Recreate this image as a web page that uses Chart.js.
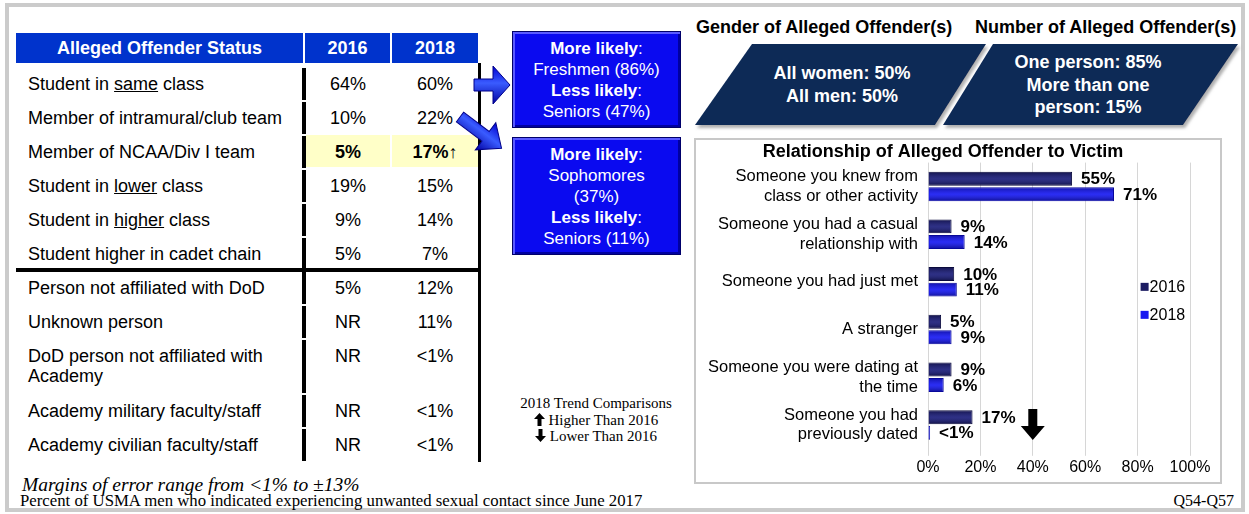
<!DOCTYPE html>
<html lang="en">
<head>
<meta charset="UTF-8">
<title>Alleged Offender Characteristics</title>
<script src="https://cdn.jsdelivr.net/npm/chart.js"></script>
<style>
  body { margin:0; width:1249px; height:514px; background:#fff; position:relative; overflow:hidden;
         font-family:'Liberation Sans', Arial, sans-serif; color:#000; }
  .abs { position:absolute; }
  .frame { left:5px; top:3px; width:1232px; height:501px; border:4px solid #cbcbcb; }
  .hd { top:33px; height:30px; line-height:31px; background:#0033cc; color:#fff; font-weight:bold;
        font-size:18px; text-align:center; }
  .row { position:absolute; left:16px; width:462px; font-size:18px; }
  .row .lab { position:absolute; left:12px; top:7px; width:272px; line-height:20px; white-space:pre-line; }
  .row .v16, .row .v18 { position:absolute; top:0; height:32px; padding-top:7px; line-height:20px;
                         text-align:center; box-sizing:border-box; }
  .row .v16 { left:290px; width:84px; }
  .row .v18 { left:376px; width:86px; }
  .row .v16::before { content:''; position:absolute; left:-4px; top:1px; width:4px;
                      height:var(--h); background:#000; }
  .row.hl .v16, .row.hl .v18 { background:#ffffc8; font-weight:bold; }
  .up { font-weight:normal; }
  .bbox { left:512px; width:167px; background:#0a0af0; border:1px solid #00006a; color:#fff;
          font-size:17px; line-height:21px; text-align:center; display:flex; align-items:center;
          justify-content:center;
          box-shadow: inset 2px 2px 0 #5a5aff, inset -2px -2px 0 #0000a0; }
  .ttl { top:16px; font-size:18px; font-weight:bold; line-height:22px; }
  .ptxt { color:#fff; font-weight:bold; font-size:18px; line-height:22.5px; text-align:center; }
  .panel { left:694px; top:138px; width:524px; height:342px; border:2px solid #c8c8c8; }
  .serif { font-family:'Liberation Serif', 'Times New Roman', serif; }
</style>
</head>
<body>
<div class="abs frame"></div>

<!-- table header -->
<div class="abs hd" style="left:16px;width:287px;">Alleged Offender Status</div>
<div class="abs hd" style="left:305px;width:85px;">2016</div>
<div class="abs hd" style="left:392px;width:86px;">2018</div>
<div id="statusRows"></div>
<div class="abs" style="left:478px;top:63px;width:3px;height:399px;background:#000;"></div>
<div class="abs" style="left:16px;top:268px;width:465px;height:4px;background:#000;"></div>

<!-- shapes: arrows and parallelograms -->
<svg class="abs" style="left:0;top:0;" width="1249" height="514">
  <defs>
    <linearGradient id="arrowFill" x1="0" y1="0" x2="0" y2="1">
      <stop offset="0" stop-color="#0000d0"/>
      <stop offset="0.45" stop-color="#3a5cff"/>
      <stop offset="1" stop-color="#0000a0"/>
    </linearGradient>
    <filter id="shade" x="-5%" y="-5%" width="115%" height="120%">
      <feDropShadow dx="2" dy="3" stdDeviation="1.5" flood-color="#7a7a7a" flood-opacity="0.6"/>
    </filter>
  </defs>
  <polygon points="474,79 493,79 493,66 510,85 493,104 493,91 474,91"
           fill="url(#arrowFill)" stroke="#00008a" stroke-width="1"/>
  <g transform="translate(460,117) rotate(37)">
    <polygon points="0,-6 32,-6 32,-17 52,0 32,17 32,6 0,6"
             fill="url(#arrowFill)" stroke="#00008a" stroke-width="1"/>
  </g>
  <polygon points="752,44 986,44 935,125 695,125" fill="#0b2956" filter="url(#shade)"/>
  <polygon points="993,44 1238,44 1183,125 943,125" fill="#0b2956" filter="url(#shade)"/>
</svg>

<!-- blue callout boxes -->
<div class="abs bbox" style="top:31px;height:95px;">
  <div><b>More likely</b>:<br>Freshmen (86%)<br><b>Less likely</b>:<br>Seniors (47%)</div>
</div>
<div class="abs bbox" style="top:137px;height:116px;">
  <div><b>More likely</b>:<br>Sophomores<br>(37%)<br><b>Less likely</b>:<br>Seniors (11%)</div>
</div>

<!-- gender / number -->
<div class="abs ttl" style="left:696px;">Gender of Alleged Offender(s)</div>
<div class="abs ttl" style="left:975px;">Number of Alleged Offender(s)</div>
<div class="abs ptxt" style="left:742px;width:200px;top:62px;">All women: 50%<br>All men: 50%</div>
<div class="abs ptxt" style="left:988px;width:200px;top:51px;">One person: 85%<br>More than one<br>person: 15%</div>

<!-- relationship chart -->
<div class="abs panel">
  <canvas id="relChart"></canvas>
</div>

<!-- trend key -->
<div class="abs serif" style="left:500px;width:192px;top:395px;font-size:15px;line-height:16.5px;text-align:center;">
  2018 Trend Comparisons<br>
  <svg width="11" height="13" viewBox="0 0 11 13" style="vertical-align:-1px"><polygon points="5.5,0 11,6 7.5,6 7.5,13 3.5,13 3.5,6 0,6" fill="#000"/></svg> Higher Than 2016<br>
  <svg width="11" height="13" viewBox="0 0 11 13" style="vertical-align:-1px"><polygon points="3.5,0 7.5,0 7.5,7 11,7 5.5,13 0,7 3.5,7" fill="#000"/></svg> Lower Than 2016
</div>

<div class="abs serif" style="left:22px;top:473px;font-size:19.5px;font-style:italic;line-height:23px;">Margins of error range from &lt;1% to ±13%</div>
<div class="abs serif" style="left:20px;top:492px;font-size:16.75px;line-height:18px;">Percent of USMA men who indicated experiencing unwanted sexual contact since June 2017</div>
<div class="abs serif" style="left:1172px;width:62px;top:492px;font-size:16px;line-height:18px;text-align:right;">Q54-Q57</div>

<script>
// --- Alleged offender status table ---
const statusLabels = [
  'Student in <u>same</u> class',
  'Member of intramural/club team',
  'Member of NCAA/Div I team',
  'Student in <u>lower</u> class',
  'Student in <u>higher</u> class',
  'Student higher in cadet chain',
  'Person not affiliated with DoD',
  'Unknown person',
  'DoD person not affiliated with\nAcademy',
  'Academy military faculty/staff',
  'Academy civilian faculty/staff'
];
const status2016 = ['64%', '10%', '5%', '19%', '9%', '5%', '5%', 'NR', 'NR', 'NR', 'NR'];
const status2018 = ['60%', '22%', '17%', '15%', '14%', '7%', '12%', '11%', '<1%', '<1%', '<1%'];
const status2018Up = [2];     // significantly higher than 2016
const highlightRow = 2;

// --- Relationship of alleged offender to victim ---
const relCategories = [
  ['Someone you knew from', 'class or other activity'],
  ['Someone you had a casual', 'relationship with'],
  'Someone you had just met',
  'A stranger',
  ['Someone you were dating at', 'the time'],
  ['Someone you had', 'previously dated']
];
const seriesYears = ['2016', '2018'];
const rel2016 = [55, 9, 10, 5, 9, 17];
const rel2018 = [71, 14, 11, 9, 6, 0.8];   // last one reported as <1%
const trendDownRows = [5];                // 2018 lower than 2016

function pctLabel(v) { return v < 1 ? '<1%' : v + '%'; }

// build table rows
const rowHeights = [34, 34, 34, 34, 34, 34, 34, 34, 55, 34, 34];
const rowsBox = document.getElementById('statusRows');
let rowTop = 67;
statusLabels.forEach((lab, i) => {
  const row = document.createElement('div');
  row.className = 'row' + (i === highlightRow ? ' hl' : '');
  row.style.top = rowTop + 'px';
  row.style.height = rowHeights[i] + 'px';
  row.style.setProperty('--h', (rowHeights[i] - 2) + 'px');
  const v18 = status2018[i].replace('<', '&lt;') +
              (status2018Up.includes(i) ? '<span class="up">\u2191</span>' : '');
  row.innerHTML = '<div class="lab">' + lab + '</div>' +
                  '<div class="v16">' + status2016[i] + '</div>' +
                  '<div class="v18">' + v18 + '</div>';
  rowsBox.appendChild(row);
  rowTop += rowHeights[i];
});

// --- chart ---
const FONT = "'Liberation Sans', Arial, sans-serif";
Chart.defaults.font.family = FONT;
Chart.defaults.color = '#000';

// bevelled look of the bars (dark edges, lighter middle)
const barBevel = {
  id: 'barBevel',
  afterDatasetsDraw(chart) {
    const ctx = chart.ctx;
    ctx.save();
    chart.data.datasets.forEach((ds, i) => {
      chart.getDatasetMeta(i).data.forEach(bar => {
        const w = bar.x - bar.base;
        if (w < 4) return;
        const top = bar.y - bar.height / 2;
        const g = ctx.createLinearGradient(0, top, 0, top + bar.height);
        g.addColorStop(0, 'rgba(0,0,30,0.35)');
        g.addColorStop(0.5, 'rgba(110,120,255,0.22)');
        g.addColorStop(1, 'rgba(0,0,30,0.45)');
        ctx.fillStyle = g;
        ctx.fillRect(bar.base + 1, top + 1, w - 2, bar.height - 2);
      });
    });
    ctx.restore();
  }
};

const valueLabels = {
  id: 'valueLabels',
  afterDatasetsDraw(chart) {
    const ctx = chart.ctx;
    ctx.save();
    ctx.font = 'bold 17px ' + FONT;
    ctx.fillStyle = '#000';
    ctx.textBaseline = 'middle';
    chart.data.datasets.forEach((ds, i) => {
      chart.getDatasetMeta(i).data.forEach((bar, j) => {
        ctx.fillText(pctLabel(ds.data[j]), bar.x + 9, bar.y + 1);
      });
    });
    ctx.restore();
  }
};

const trendArrow = {
  id: 'trendArrow',
  afterDatasetsDraw(chart) {
    const { ctx, scales: { x, y } } = chart;
    ctx.save();
    ctx.fillStyle = '#000';
    trendDownRows.forEach(idx => {
      const cx = x.getPixelForValue(40), cy = y.getPixelForValue(idx);
      ctx.beginPath();
      ctx.moveTo(cx - 4.5, cy - 16);
      ctx.lineTo(cx + 4.5, cy - 16);
      ctx.lineTo(cx + 4.5, cy + 1);
      ctx.lineTo(cx + 12, cy + 1);
      ctx.lineTo(cx, cy + 15);
      ctx.lineTo(cx - 12, cy + 1);
      ctx.lineTo(cx - 4.5, cy + 1);
      ctx.closePath();
      ctx.fill();
    });
    ctx.restore();
  }
};

// small legend sitting inside the plot, on the right
const cornerLegend = {
  id: 'cornerLegend',
  afterDraw(chart) {
    const { ctx, scales: { x, y } } = chart;
    const left = x.getPixelForValue(80) + 3;
    const top = y.getPixelForValue(2) + 5;
    ctx.save();
    ctx.textBaseline = 'middle';
    ctx.font = '16px ' + FONT;
    chart.data.datasets.forEach((ds, i) => {
      const cy = top + i * 28;
      ctx.fillStyle = ds.backgroundColor;
      ctx.fillRect(left, cy - 4, 8, 8);
      ctx.fillStyle = '#000';
      ctx.fillText(ds.label, left + 9, cy + 1);
    });
    ctx.restore();
  }
};

new Chart(document.getElementById('relChart'), {
  type: 'bar',
  data: {
    labels: relCategories,
    datasets: [
      { label: seriesYears[0], data: rel2016, backgroundColor: '#1c1c62', borderColor: '#0a0a3c',
        borderWidth: 1, categoryPercentage: 0.65, barPercentage: 0.9 },
      { label: seriesYears[1], data: rel2018, backgroundColor: '#1818f0', borderColor: '#08089a',
        borderWidth: 1, categoryPercentage: 0.65, barPercentage: 0.9 }
    ]
  },
  options: {
    indexAxis: 'y',
    responsive: true,
    maintainAspectRatio: false,
    animation: false,
    layout: { padding: { left: 0, right: 30, top: 0, bottom: 0 } },
    plugins: {
      legend: { display: false },
      tooltip: { enabled: false },
      title: {
        display: true,
        text: 'Relationship of Alleged Offender to Victim',
        color: '#000',
        font: { size: 18, weight: 'bold' },
        padding: { top: 1, bottom: 0 }
      }
    },
    scales: {
      x: {
        min: 0, max: 100,
        ticks: { stepSize: 20, callback: v => v + '%', font: { size: 16 }, padding: 2 },
        grid: { color: '#d6d6d6', drawTicks: true, tickLength: 7 },
        border: { display: false },
        afterFit: s => { s.height = 33.2; }
      },
      y: {
        grid: { display: false, drawTicks: false },
        border: { display: false },
        ticks: { font: { size: 16.5 }, padding: 10 },
        afterFit: s => { s.width = 232; s.paddingTop = 0; s.paddingBottom = 0; }
      }
    }
  },
  plugins: [barBevel, valueLabels, trendArrow, cornerLegend]
});
</script>
</body>
</html>
